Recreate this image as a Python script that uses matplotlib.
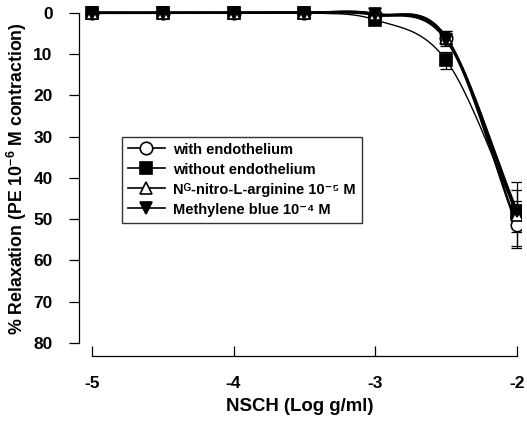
import numpy as np
import matplotlib.pyplot as plt

plt.rcParams['font.family'] = ['Liberation Sans', 'DejaVu Sans']
plt.rcParams['font.weight'] = 'bold'
plt.rcParams['mathtext.fontset'] = 'custom'
plt.rcParams['mathtext.rm'] = 'Liberation Sans:bold'
plt.rcParams['mathtext.bf'] = 'Liberation Sans:bold'
plt.rcParams['mathtext.default'] = 'bf'

# log concentration of NSCH
logc = [-5, -4.5, -4, -3.5, -3, -2.5, -2]

# % relaxation (mean) and error
with_endo = [0, 0, 0, 0, 0.5, 6, 51.5]
with_endo_err = [0.4, 0.4, 0.4, 0.4, 0.6, 1.5, 5]
without_endo = [0, 0, 0, 0, 1.7, 11.5, 48.5]
without_endo_err = [0.4, 0.4, 0.4, 0.4, 0.8, 2, 3]
nla = [0, 0, 0, 0, 0.3, 6, 49]
nla_err = [0.4, 0.4, 0.4, 0.4, 0.6, 1.5, 8]
mb = [0, 0, 0, 0, 0.3, 6.5, 48]
mb_err = [0.4, 0.4, 0.4, 0.4, 0.6, 1.5, 5]

labels = ['with endothelium', 'without endothelium',
          'N\u1d33-nitro-L-arginine 10\u207b\u2075 M', 'Methylene blue 10\u207b\u2074 M']


def smooth(x, y, n=40):
    # catmull-rom curve through the points
    x = np.asarray(x, float)
    y = np.asarray(y, float)
    px = np.concatenate([[2 * x[0] - x[1]], x, [2 * x[-1] - x[-2]]])
    py = np.concatenate([[2 * y[0] - y[1]], y, [2 * y[-1] - y[-2]]])
    xs, ys = [], []
    t = np.linspace(0, 1, n)
    for i in range(1, len(px) - 2):
        for p, out in ((px, xs), (py, ys)):
            p0, p1, p2, p3 = p[i - 1], p[i], p[i + 1], p[i + 2]
            out.append(0.5 * (2 * p1 + (-p0 + p2) * t
                              + (2 * p0 - 5 * p1 + 4 * p2 - p3) * t ** 2
                              + (-p0 + 3 * p1 - 3 * p2 + p3) * t ** 3))
    return np.concatenate(xs), np.concatenate(ys)


fig = plt.figure(figsize=(5.27, 4.22), dpi=100)
ax = fig.add_axes([0.150, 0.156, 0.839, 0.843])

series = [
    (with_endo, with_endo_err, dict(marker='o', mfc='white', mec='black', ms=9), 1.8),
    (without_endo, without_endo_err, dict(marker='s', mfc='black', mec='black', ms=8), 1.0),
    (nla, nla_err, dict(marker='^', mfc='white', mec='black', ms=9), 1.8),
    (mb, mb_err, dict(marker='v', mfc='black', mec='black', ms=9), 1.8),
]

handles = []
for (y, e, mk, lw), lab in zip(series, labels):
    sx, sy = smooth(logc, y)
    ax.plot(sx, sy, color='black', lw=lw, zorder=2)
    ax.errorbar(logc, y, yerr=e, fmt='none', ecolor='black', elinewidth=0.9,
                capsize=4, capthick=0.9, zorder=3)
    ax.plot(logc, y, ls='none', mew=1.2, zorder=4, **mk)
    h, = ax.plot([], [], color='black', lw=1.2, mew=1.2, **mk)
    handles.append(h)

ax.set_xlim(-5.09, -1.97)
ax.set_ylim(83.2, -3)

ax.spines['top'].set_visible(False)
ax.spines['right'].set_visible(False)
ax.spines['left'].set_bounds(0, 80)
ax.spines['bottom'].set_bounds(-5, -2)
ax.spines['left'].set_linewidth(0.9)
ax.spines['bottom'].set_linewidth(0.9)

ax.set_xticks([-5, -4, -3, -2])
ax.set_xticklabels(['-5', '-4', '-3', '-2'])
ax.set_yticks(range(0, 81, 10))
ax.tick_params(axis='x', direction='in', length=7, width=0.9, labelsize=12.5, pad=14)
ax.tick_params(axis='y', direction='out', length=7, width=0.9, labelsize=12.5, pad=12)

ax.set_xlabel('NSCH (Log g/ml)', fontsize=13.4, fontweight='bold', labelpad=5)
ax.set_ylabel('% Relaxation (PE 10$^{-6}$ M contraction)', fontsize=12.8,
              fontweight='bold', labelpad=3)

leg = ax.legend(handles, labels, loc='upper left', bbox_to_anchor=(0.098, 0.617),
                fontsize=10.5, frameon=True, fancybox=False, edgecolor='black',
                handlelength=2.5, handleheight=1.0, labelspacing=0.38,
                handletextpad=0.6, borderpad=0.4, borderaxespad=0)
leg.get_frame().set_linewidth(1.0)

fig.savefig('out.png', dpi=100)
